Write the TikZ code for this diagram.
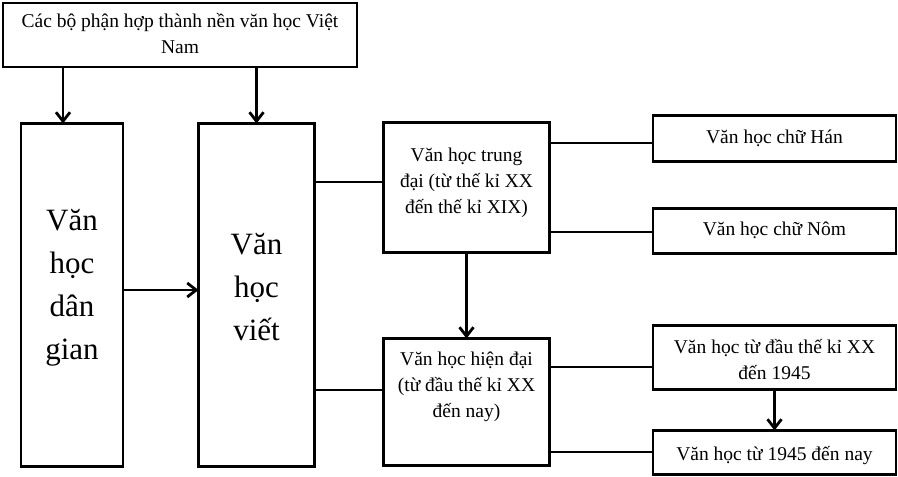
\documentclass[tikz,border=0pt]{standalone}
\usepackage{fontspec}
\setmainfont{Liberation Serif}
\usetikzlibrary{arrows.meta}
\newcommand\normtxt{\fontsize{19.5}{26}\selectfont}
\newcommand\bigtxt{\fontsize{31}{43}\selectfont}
\tikzset{
  box/.style={draw=black, line width=2.8pt, fill=white, minimum width=#1, inner sep=0pt, outer sep=0pt},
  txt/.style={align=center, inner sep=0pt, font=\normtxt},
  bigt/.style={align=center, inner sep=0pt, font=\bigtxt},
  conn/.style={line width=2.8pt},
  arr/.style={line width=2.8pt, -{Straight Barb[length=9pt,width=14pt,line width=2.8pt]}},
}
\begin{document}
\begin{tikzpicture}[x=1pt,y=-1pt]
\useasboundingbox (0,0) rectangle (898,477);
% boxes
\node[box=354pt, minimum height=64pt] (top) at (180,35) {};
\node[box=102pt, minimum height=343pt] (dg) at (72,295) {};
\node[box=116pt, minimum height=343pt] (viet) at (256.5,295) {};
\node[box=166pt, minimum height=130pt] (td) at (466.5,187.5) {};
\node[box=166pt, minimum height=127pt] (hd) at (466.5,402) {};
\node[box=243pt, minimum height=46pt] (han) at (774.5,138.5) {};
\node[box=243pt, minimum height=45pt] (nom) at (774.5,231) {};
\node[box=243pt, minimum height=64pt] (b3) at (774.5,357.5) {};
\node[box=243pt, minimum height=44pt] (b4) at (774.5,452.5) {};
% texts
\node[txt] (ttop) at ([yshift=1pt]top.center) {Các bộ phận hợp thành nền văn học Việt\\Nam};
\node[bigt] (tdg) at ([yshift=7pt]dg.center) {Văn\\học\\dân\\gian};
\node[bigt] (tviet) at ([yshift=8pt]viet.center) {Văn\\học\\viết};
\node[txt] (ttd) at ([yshift=4.5pt]td.center) {Văn học trung\\đại (từ thế kỉ XX\\đến thế kỉ XIX)};
\node[txt] (thd) at ([yshift=15pt]hd.center) {Văn học hiện đại\\(từ đầu thế kỉ XX\\đến nay)};
\node[txt] (than) at (han.center) {Văn học chữ Hán};
\node[txt] (tnom) at ([yshift=1pt]nom.center) {Văn học chữ Nôm};
\node[txt] (tb3) at ([yshift=-2.5pt]b3.center) {Văn học từ đầu thế kỉ XX\\đến 1945};
\node[txt] (tb4) at ([yshift=-3pt]b4.center) {Văn học từ 1945 đến nay};
% helper coordinates
\coordinate (x63) at (63,0);
\coordinate (y290) at (0,290);
\coordinate (y182) at (0,182);
\coordinate (y390) at (0,390);
\coordinate (y143) at (0,143);
\coordinate (y232) at (0,232);
\coordinate (y367) at (0,367);
\coordinate (y452) at (0,452);
% arrows
\draw[arr] (top.south -| x63) -- (dg.north -| x63);
\draw[arr] (top.south -| viet.north) -- (viet.north);
\draw[arr] (dg.east |- y290) -- (viet.west |- y290);
\draw[arr] (td.south) -- (hd.north);
\draw[arr] (b3.south) -- (b4.north);
% plain connectors
\draw[conn] (viet.east |- y182) -- (td.west |- y182);
\draw[conn] (viet.east |- y390) -- (hd.west |- y390);
\draw[conn] (td.east |- y143) -- (han.west |- y143);
\draw[conn] (td.east |- y232) -- (nom.west |- y232);
\draw[conn] (hd.east |- y367) -- (b3.west |- y367);
\draw[conn] (hd.east |- y452) -- (b4.west |- y452);
\end{tikzpicture}
\end{document}
